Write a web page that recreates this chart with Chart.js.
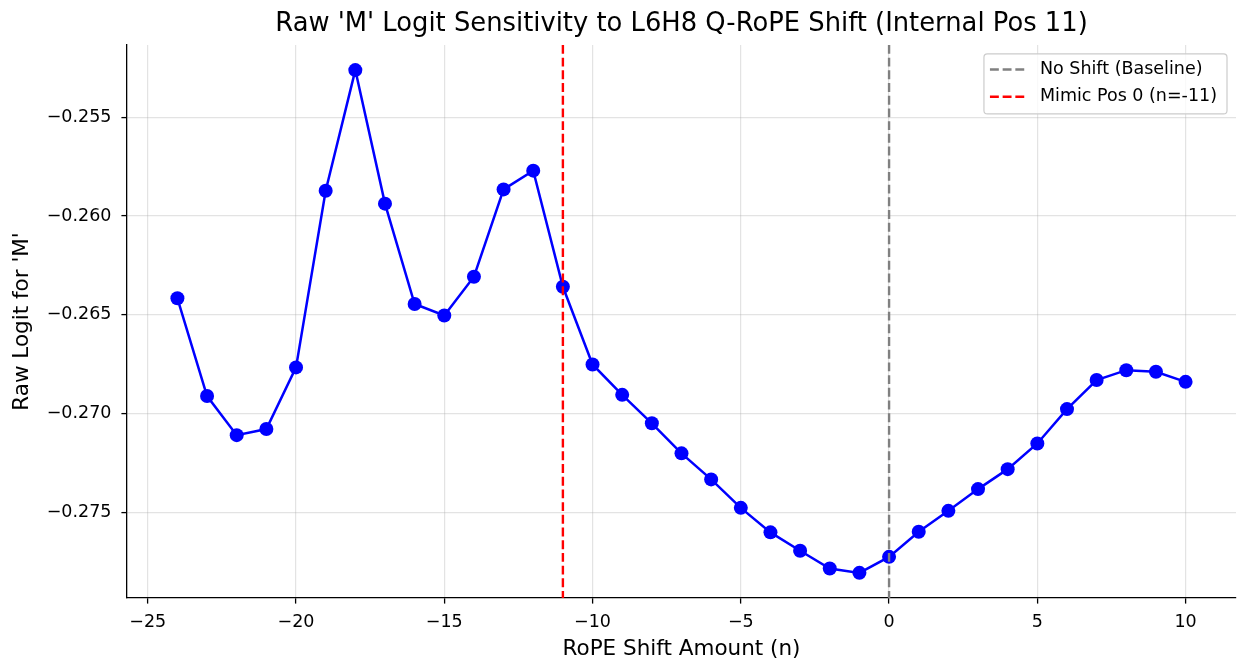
<!DOCTYPE html>
<html>
<head>
    <title>RoPE Shift Sensitivity</title>
    <script src="https://cdn.jsdelivr.net/npm/chart.js"></script>
    <style>
        body { margin: 0; background: #fff; }
    </style>
</head>
<body>
    <canvas id="shiftChart" width="1238" height="662"></canvas>

    <script>
        // Shift amounts tried and the raw logit for 'M' at each one
        const shifts = [-24, -23, -22, -21, -20, -19, -18, -17, -16, -15, -14, -13, -12, -11,
                        -10, -9, -8, -7, -6, -5, -4, -3, -2, -1, 0, 1, 2, 3, 4, 5, 6, 7, 8, 9, 10];
        const logits = [-0.26416, -0.26911, -0.27109, -0.27078, -0.26766, -0.25872, -0.25261,
                        -0.25937, -0.26445, -0.26503, -0.26307, -0.25865, -0.25770, -0.26358,
                        -0.26751, -0.26905, -0.27049, -0.27201, -0.27333, -0.27477, -0.27601,
                        -0.27694, -0.27784, -0.27806, -0.27725, -0.27598, -0.27492, -0.27382,
                        -0.27281, -0.27151, -0.26977, -0.26830, -0.26780, -0.26788, -0.26839];

        // Reference shifts marked with dashed vertical lines
        const refShifts = [0, -11];
        const refLabels = ['No Shift (Baseline)', 'Mimic Pos 0 (n=-11)'];
        const refColors = ['#808080', '#ff0000'];

        const FONT = "'DejaVu Sans', sans-serif";
        const DASH = [8.9, 3.8];

        // 5% margin around the data, like matplotlib autoscale
        function padded(arr) {
            const lo = Math.min(...arr), hi = Math.max(...arr);
            const m = (hi - lo) * 0.05;
            return [lo - m, hi + m];
        }
        const [xMin, xMax] = padded(shifts);
        const [yMin, yMax] = padded(logits);

        const minus = s => String(s).replace('-', '\u2212');

        // dashed reference lines + legend box drawn on top of the series
        const refLinesPlugin = {
            id: 'refLines',
            afterDatasetsDraw(chart) {
                const { ctx, chartArea, scales } = chart;
                refShifts.forEach((s, i) => {
                    const px = scales.x.getPixelForValue(s);
                    ctx.save();
                    ctx.strokeStyle = refColors[i];
                    ctx.lineWidth = 2.4;
                    ctx.setLineDash(DASH);
                    ctx.beginPath();
                    ctx.moveTo(px, chartArea.top);
                    ctx.lineTo(px, chartArea.bottom);
                    ctx.stroke();
                    ctx.restore();
                });
            },
            afterDraw(chart) {
                const { ctx, chartArea } = chart;
                ctx.save();
                ctx.font = '17.5px ' + FONT;
                const textW = Math.max(...refLabels.map(t => ctx.measureText(t).width));
                const boxW = 56 + textW + 10;
                const boxH = 60;
                const left = chartArea.right - 9 - boxW;
                const top = chartArea.top + 9;

                ctx.fillStyle = 'rgba(255,255,255,0.8)';
                ctx.strokeStyle = '#cccccc';
                ctx.lineWidth = 1.2;
                ctx.beginPath();
                ctx.roundRect(left, top, boxW, boxH, 3.5);
                ctx.fill();
                ctx.stroke();

                refLabels.forEach((label, i) => {
                    const y = top + 15.5 + i * 27.3;
                    ctx.strokeStyle = refColors[i];
                    ctx.lineWidth = 2.4;
                    ctx.setLineDash(DASH);
                    ctx.beginPath();
                    ctx.moveTo(left + 6, y);
                    ctx.lineTo(left + 41, y);
                    ctx.stroke();
                    ctx.setLineDash([]);
                    ctx.fillStyle = '#000';
                    ctx.textBaseline = 'middle';
                    ctx.textAlign = 'left';
                    ctx.fillText(label, left + 56, y);
                });
                ctx.restore();
            }
        };

        Chart.defaults.color = '#000';
        Chart.defaults.font.family = FONT;

        const ctx = document.getElementById('shiftChart').getContext('2d');
        new Chart(ctx, {
            type: 'line',
            data: {
                datasets: [{
                    label: "Raw 'M' logit",
                    data: shifts.map((s, i) => ({ x: s, y: logits[i] })),
                    borderColor: '#0000ff',
                    backgroundColor: '#0000ff',
                    borderWidth: 2.5,
                    pointRadius: 7,
                    pointBorderWidth: 0,
                    pointBackgroundColor: '#0000ff',
                    tension: 0
                }]
            },
            options: {
                responsive: false,
                animation: false,
                devicePixelRatio: 1,
                layout: { autoPadding: false, padding: { left: 0, right: 2, top: 0, bottom: 0 } },
                plugins: {
                    legend: { display: false },
                    tooltip: { enabled: false },
                    title: {
                        display: true,
                        fullSize: false, // center over the plot area, not the canvas
                        text: "Raw 'M' Logit Sensitivity to L6H8 Q-RoPE Shift (Internal Pos 11)",
                        color: '#000',
                        font: { size: 25.8, weight: 'normal' },
                        padding: { top: 8.4, bottom: 5.6 }
                    }
                },
                scales: {
                    x: {
                        type: 'linear',
                        min: xMin,
                        max: xMax,
                        afterFit: s => { s.height = 64; },
                        border: { display: true, color: '#000', width: 1.3 },
                        grid: {
                            color: 'rgba(176,176,176,0.35)',
                            lineWidth: 1.2,
                            tickColor: '#000',
                            tickWidth: 1.3,
                            tickLength: 5.6
                        },
                        ticks: {
                            stepSize: 5,
                            includeBounds: false,
                            padding: 8,
                            maxRotation: 0,
                            font: { size: 17.5 },
                            callback: v => minus(v)
                        },
                        title: {
                            display: true,
                            text: 'RoPE Shift Amount (n)',
                            font: { size: 21.5 },
                            padding: { top: 0, bottom: 0 }
                        }
                    },
                    y: {
                        min: yMin,
                        max: yMax,
                        afterFit: s => { s.width = 127; },
                        border: { display: true, color: '#000', width: 1.3 },
                        grid: {
                            color: 'rgba(176,176,176,0.35)',
                            lineWidth: 1.2,
                            tickColor: '#000',
                            tickWidth: 1.3,
                            tickLength: 5.6
                        },
                        ticks: {
                            stepSize: 0.005,
                            includeBounds: false,
                            padding: 10,
                            font: { size: 17.5 },
                            callback: v => minus(v.toFixed(3))
                        },
                        title: {
                            display: true,
                            text: "Raw Logit for 'M'",
                            font: { size: 21.5 },
                            padding: { top: 9.6, bottom: 0 }
                        }
                    }
                }
            },
            plugins: [refLinesPlugin]
        });
    </script>
</body>
</html>
